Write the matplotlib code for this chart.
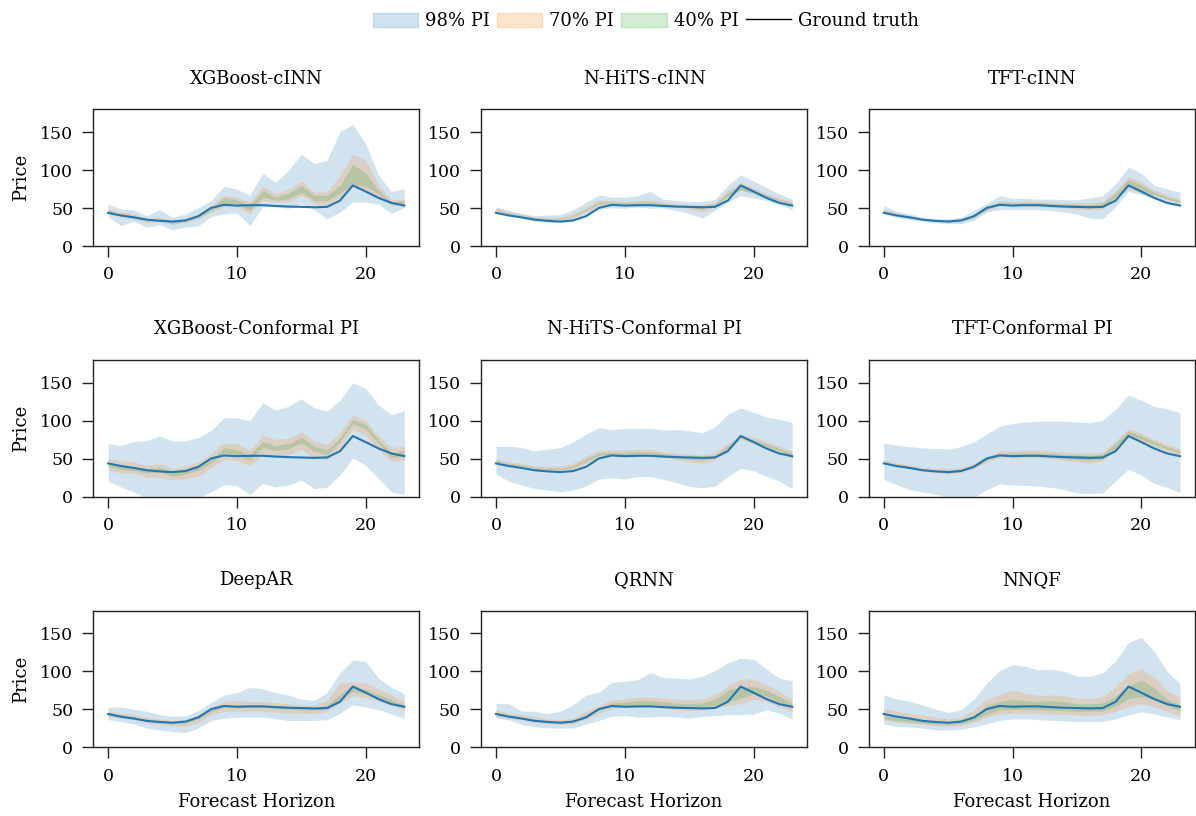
import numpy as np
import matplotlib
matplotlib.use('Agg')
import matplotlib.pyplot as plt
from matplotlib.patches import Patch
from matplotlib.lines import Line2D

plt.rcParams['font.family'] = ['DejaVu Serif']
plt.rcParams['font.size'] = 12

horizon = np.arange(24)
ground_truth = [44, 40.5, 38, 35, 33.5, 32.5, 34, 39.5, 50.5, 54.5, 53.5, 54, 54, 53, 52.2, 51.8, 51.3, 51.8, 60, 80, 72, 63.6, 57, 53.5]

# XGBoost-cINN
xgb_cinn_98 = ([39, 27, 33, 25, 28.5, 21.5, 25, 27, 39, 42.5, 44, 27, 52, 52, 50, 56, 48, 36, 45, 58, 58, 55, 43, 51],
               [55.7, 49, 48, 40, 48, 38, 42.5, 51, 60, 79, 75, 67, 96, 84, 100, 121, 109, 113, 151, 160, 135, 93, 72, 76])
xgb_cinn_70 = ([42.5, 38, 36, 31.5, 33, 28.5, 31.5, 36, 45, 52, 52, 42.5, 60, 58, 58, 67, 56, 53.5, 64.5, 78, 73, 65, 53.5, 55],
               [49, 45, 43, 36, 38, 34, 36, 42.5, 53.5, 67, 64.5, 58, 79, 69, 75, 86, 71, 72, 93, 121, 113, 80, 61, 62])
xgb_cinn_40 = ([45, 40, 38, 33, 34.5, 30, 33, 38, 47, 56, 56.5, 47, 64.5, 61, 62, 71, 60, 60, 70, 82, 78.5, 69, 56, 56.5],
               [47, 42.5, 40, 34.5, 36, 31.5, 34, 39, 50, 64, 61, 53.5, 73, 64.5, 70, 80, 67, 67, 80, 108, 96, 73, 58, 60])

# N-HiTS-cINN
nhits_cinn_98 = ([45, 40, 37, 33, 31.5, 31, 33, 40, 49, 50.5, 50, 51.5, 50, 50.5, 47, 43, 37, 47, 58, 66.5, 63.5, 60, 55.5, 48],
                 [52, 47, 43, 40, 41, 41.5, 48, 58, 67.5, 65, 64.5, 66.5, 72, 62, 60, 59, 59, 61.5, 80, 94, 86, 77, 69, 62])
nhits_cinn_70 = ([46, 42.5, 39.5, 36, 34.5, 34.5, 37, 45, 53.5, 55, 54.5, 55, 55, 53.5, 51.5, 49, 45, 51.5, 63.5, 74, 69, 63.5, 59, 53.5],
                 [50.5, 45.5, 42.5, 39, 38, 38, 43, 52, 61, 60, 59, 60, 61, 58, 55.5, 55, 55, 58, 73, 84, 77, 69, 63.5, 59])
nhits_cinn_40 = ([47.5, 43.5, 40.5, 37, 36, 36, 39.5, 47.5, 56, 57, 56.5, 57, 57, 55, 53, 51, 49, 53, 66, 74, 70, 64.5, 60.5, 55.5],
                 [48.5, 44, 41, 37.5, 36.5, 36.5, 40.5, 49, 58, 58, 57.5, 58, 58.5, 56, 54, 53, 52, 55, 70, 80, 74, 67, 61.5, 57])

# TFT-cINN
tft_cinn_98 = ([42.5, 38, 35, 33, 30.5, 30, 30, 34, 45, 48, 48, 48, 48, 47, 45, 42.5, 37, 36, 52, 72.5, 67.5, 63, 58, 53.5],
               [53.5, 46, 42.5, 38, 36, 36, 38, 47, 56.5, 66.5, 63, 63, 62, 62, 61.5, 61, 63.5, 66.5, 82, 104, 96, 80, 75.5, 71])
tft_cinn_70 = ([45, 40, 37, 34, 32.5, 31.5, 31.5, 37, 47, 53.5, 53.5, 53.5, 52.5, 51.5, 50.5, 49, 48, 49, 63.5, 75, 70, 66.5, 61, 56.5],
               [49, 44, 41, 37, 35, 34.5, 36, 42.5, 52, 60, 59, 59, 59, 58, 57, 57, 57, 59, 73, 92, 84, 74, 67.5, 62])
tft_cinn_40 = ([46, 41.5, 38.5, 35, 33.5, 32.5, 33, 38.5, 48.5, 55.5, 55.5, 55.5, 55, 53.5, 52.5, 51, 50.5, 51.5, 66, 80, 73.5, 68, 62.5, 58],
               [47, 42.5, 40, 36, 34, 33.5, 34.5, 40.5, 50, 57.5, 57, 57, 57, 56, 55, 55, 54.5, 56, 70, 87.5, 80.5, 71, 64.5, 60])

# XGBoost-Conformal PI
xgb_conf_98 = ([20.5, 13, 6.5, -2, -5, -8, -6, -1, 6.5, 16, 14.5, 3, 17.5, 13, 15.5, 22, 11, 12.5, 28.5, 51, 41.5, 24, 6.5, 3.5],
               [70, 67.5, 73, 74, 80, 73.5, 73.5, 78, 87.5, 104, 104, 100, 124, 114, 119, 129, 117, 113, 127, 150, 142.5, 120.5, 108, 113])
xgb_conf_70 = ([35, 31.5, 31, 25.5, 26, 22, 24, 27, 38.5, 49, 48, 41, 55.5, 52, 55, 62, 51.5, 49, 64.5, 89, 81, 61, 47, 48],
               [51, 47, 46, 41.5, 43.5, 37, 40.5, 46, 57, 71, 70, 61, 81, 75.5, 77, 85.5, 73, 69, 84, 108, 100, 80, 65, 66.5])
xgb_conf_40 = ([40, 36, 35, 31.5, 33, 27, 30, 35, 44.5, 58, 56, 48, 65, 61, 63.5, 71, 60.5, 55.5, 72.5, 96.5, 89, 70, 52, 53.5],
               [45, 40.5, 39, 37, 38.5, 33, 35, 40, 49, 65, 62, 55, 73, 67, 70, 78.5, 66.5, 62, 77, 101.5, 95.5, 74.5, 58, 61])

# N-HiTS-Conformal PI
nhits_conf_98 = ([30, 20.5, 15.5, 11, 9, 6.5, 9, 14, 23.5, 25, 23.5, 26.5, 26.5, 23, 18.5, 14, 12, 14, 26.5, 37.5, 34, 27, 20.5, 11],
                 [66.5, 66.5, 65, 60.5, 62.5, 65, 72.5, 82.5, 91, 88.5, 90, 90, 90, 88, 88.5, 87, 84, 92, 108.5, 117, 111, 105, 102, 98])
nhits_conf_70 = ([44.5, 41.5, 39.5, 36, 34, 34, 36.5, 44, 51.5, 52.5, 52.5, 53.5, 53.5, 51.5, 49, 46, 44, 48, 60.5, 75.5, 70, 63.5, 58, 50.5],
                 [50, 46, 44, 40.5, 40.5, 40.5, 44.5, 53.5, 61.5, 61.5, 61.5, 62.5, 62.5, 59, 58, 56, 55, 58, 70, 82.5, 78, 72.5, 66.5, 60])
nhits_conf_40 = ([46.5, 43, 41, 37.5, 36, 36, 39, 47, 55, 55.5, 55.5, 56, 56.5, 54, 52, 49.5, 48, 51.5, 64, 78, 72.5, 66.5, 61, 53.5],
                 [48, 44, 42, 38.5, 37.5, 37.5, 41, 50, 58, 58.5, 58.5, 59, 59, 56.5, 55, 52.5, 51, 54.5, 66.5, 80, 75, 69.5, 63.5, 57])

# TFT-Conformal PI
tft_conf_98 = ([23, 16, 9.5, 6.5, 3.5, -1, -2, -1, 9.5, 17, 15.5, 15, 14, 12.5, 9.5, 5, 4.5, 5, 21, 36.5, 28.5, 17.5, 12.5, 5.5],
               [71, 68, 66, 64.5, 63.5, 63, 66, 72.5, 82.5, 93, 96.5, 98.5, 99.5, 99.5, 99.5, 98.5, 97.5, 101, 115, 134, 127, 119, 116, 110.5])
tft_conf_70 = ([44, 40.5, 37, 34, 31.5, 30.5, 31.5, 37, 46, 51.5, 51, 51.5, 51.5, 50, 48, 46, 44.5, 47, 61.5, 78, 72.5, 66, 60, 55],
               [49, 44.5, 42.5, 39.5, 37, 37, 38.5, 44.5, 53.5, 60.5, 60.5, 61.5, 61.5, 60, 59, 58, 58, 59, 73.5, 90, 83.5, 75.5, 69, 63.5])
tft_conf_40 = ([45.5, 41.5, 38.5, 35.5, 33, 32.5, 33.5, 39, 48, 54.5, 54, 54.5, 54.5, 53, 51, 49, 48, 50, 65, 82, 76, 69, 63, 57.5],
               [47, 42.5, 40.5, 37, 35, 35, 36.5, 42, 51.5, 57.5, 57.5, 58, 58, 57, 56, 55, 54.5, 56, 70, 86.5, 80, 72.5, 66, 60.5])

# DeepAR
deepar_98 = ([36.5, 34, 31, 25.5, 23, 21, 19.5, 25.5, 35.5, 38.5, 40, 40, 40, 37.5, 35.5, 35.5, 35.5, 36.5, 45, 56, 53, 49.5, 44, 38.5],
             [53, 53, 50.5, 47.5, 43, 41, 41.5, 48.5, 59, 69, 72, 79, 77, 72, 69, 63.5, 62, 72, 98, 115, 113, 91, 79, 70.5])
deepar_70 = ([40, 38.5, 36.5, 32, 30, 28.5, 27.5, 33, 43, 47.5, 47.5, 48, 47.5, 46, 45, 45, 44, 47.5, 58.5, 68, 65, 60.5, 55, 49],
             [48, 45, 43, 40, 37, 35.5, 36.5, 43, 53, 60.5, 61.5, 60.5, 60.5, 59, 57.5, 56, 56, 61.5, 84.5, 86.5, 84.5, 77, 69, 60.5])
deepar_40 = ([43, 39.5, 37.5, 34.5, 32.5, 31.5, 32, 37.5, 47, 53, 53, 53, 53, 51.5, 50.5, 49.5, 49, 51, 62, 74, 71, 65.5, 59.5, 53],
             [46, 42, 40, 36.5, 34, 33, 34, 40, 50, 56, 56, 56, 56, 55, 53.5, 52.5, 52.5, 55.5, 70, 82, 76, 69.5, 63, 56])

# QRNN
qrnn_98 = ([38.5, 36.5, 30, 27.5, 25.5, 25.5, 25.5, 31, 35.5, 41, 42, 40, 40, 41, 40, 38.5, 41, 41.5, 43, 43, 44, 49.5, 45, 37],
           [58, 57.5, 48, 47.5, 44.5, 47.5, 56, 69, 72.5, 85.5, 87, 89, 98.5, 92, 91, 90, 93.5, 101, 111, 117.5, 116, 103, 91, 88])
qrnn_70 = ([40.5, 37.5, 36.5, 33, 31, 30, 31, 37.5, 45, 51, 53, 53, 53, 51.5, 49.5, 48.5, 49.5, 51.5, 55, 57.5, 63.5, 60.5, 53, 47.5],
           [49.5, 45, 43, 40, 37.5, 36.5, 38.5, 47.5, 55, 62.5, 64, 66, 66, 65, 63.5, 63.5, 63.5, 69, 81, 90, 90, 82.5, 73.5, 63.5])
qrnn_40 = ([43.5, 40, 38, 35, 33, 32.5, 34, 40.5, 49, 54.5, 55, 55.5, 56, 55, 53, 51.5, 52.5, 55.5, 60, 65, 70, 67, 60, 52],
           [46, 42, 40, 37, 35, 34, 36, 43.5, 52.5, 58.5, 59.5, 61.5, 61.5, 60, 58, 57.5, 58.5, 63, 75, 80, 80, 75.5, 67, 58])

# NNQF
nnqf_98 = ([31, 27.5, 27, 25.5, 23, 22.5, 24, 27, 31, 35.5, 37.5, 37.5, 36.5, 35.5, 35, 34, 34, 34, 37.5, 43, 46.5, 44, 40, 36.5],
           [69, 64, 60.5, 56, 50.5, 46, 49.5, 63.5, 84.5, 101, 109, 106.5, 102, 103, 100, 94, 93.5, 98, 114, 138, 145, 126, 100, 84])
nnqf_70 = ([36, 33, 31.5, 30.5, 29, 28, 29, 33, 40, 44, 45, 45, 44.5, 44, 43.5, 42.5, 42.5, 43, 47.5, 54, 57.5, 53.5, 47.5, 41.5],
           [51.5, 47.5, 45, 43.5, 40, 37.5, 40, 49.5, 63.5, 70, 75, 71.5, 68.5, 69, 68, 65, 64, 67, 79.5, 96.5, 104, 92, 75, 65])
nnqf_40 = ([38, 35, 33.5, 32, 30.5, 30, 31, 36, 44, 49.5, 50, 50, 49.5, 49, 48.5, 47.5, 47.5, 48, 54, 64, 67, 62.5, 55, 48],
           [42.5, 39, 37, 35, 33, 31.5, 33, 41, 55, 60.5, 63.5, 61.5, 60.5, 61.5, 60.5, 57.5, 57.5, 58.5, 67.5, 81, 89, 78.5, 63.5, 56])

models = [
    ("XGBoost-cINN", xgb_cinn_98, xgb_cinn_70, xgb_cinn_40),
    ("N-HiTS-cINN", nhits_cinn_98, nhits_cinn_70, nhits_cinn_40),
    ("TFT-cINN", tft_cinn_98, tft_cinn_70, tft_cinn_40),
    ("XGBoost-Conformal PI", xgb_conf_98, xgb_conf_70, xgb_conf_40),
    ("N-HiTS-Conformal PI", nhits_conf_98, nhits_conf_70, nhits_conf_40),
    ("TFT-Conformal PI", tft_conf_98, tft_conf_70, tft_conf_40),
    ("DeepAR", deepar_98, deepar_70, deepar_40),
    ("QRNN", qrnn_98, qrnn_70, qrnn_40),
    ("NNQF", nnqf_98, nnqf_70, nnqf_40),
]
pi_colors = ["tab:blue", "tab:orange", "tab:green"]
pi_labels = ["98% PI", "70% PI", "40% PI"]

fig, axes = plt.subplots(3, 3, figsize=(11.96, 8.16), dpi=100)
fig.subplots_adjust(left=0.078, right=0.999, top=0.866, bottom=0.084, wspace=0.19, hspace=0.83)

for ax, (name, *bands) in zip(axes.flat, models):
    for (lo, hi), c in zip(bands, pi_colors):
        ax.fill_between(horizon, lo, hi, color=c, alpha=0.2, lw=0)
    ax.plot(horizon, ground_truth, color="tab:blue", lw=1.5)
    ax.set_title(name, fontsize=13, pad=18.5)
    ax.set_ylim(0, 180)
    ax.set_xticks([0, 10, 20])
    ax.set_yticks([0, 50, 100, 150])
    ax.tick_params(length=8, width=1, pad=6.5, labelsize=12.5, color="#222222")
    for s in ax.spines.values():
        s.set_linewidth(1.0)
        s.set_color("#222222")

for ax in axes[:, 0]:
    ax.set_ylabel("Price", fontsize=13, labelpad=7)
for ax in axes[-1, :]:
    ax.set_xlabel("Forecast Horizon", fontsize=13, labelpad=6)

handles = [Patch(facecolor=c, edgecolor=c, alpha=0.2, lw=1) for c in pi_colors]
handles.append(Line2D([], [], color="k", lw=1))
fig.legend(handles, pi_labels + ["Ground truth"], loc="upper center",
           bbox_to_anchor=(0.54, 1.005), ncol=4, frameon=False, fontsize=13,
           handlelength=2.5, handleheight=0.85, handletextpad=0.4, columnspacing=0.4)

fig.savefig("out.png", dpi=100)
